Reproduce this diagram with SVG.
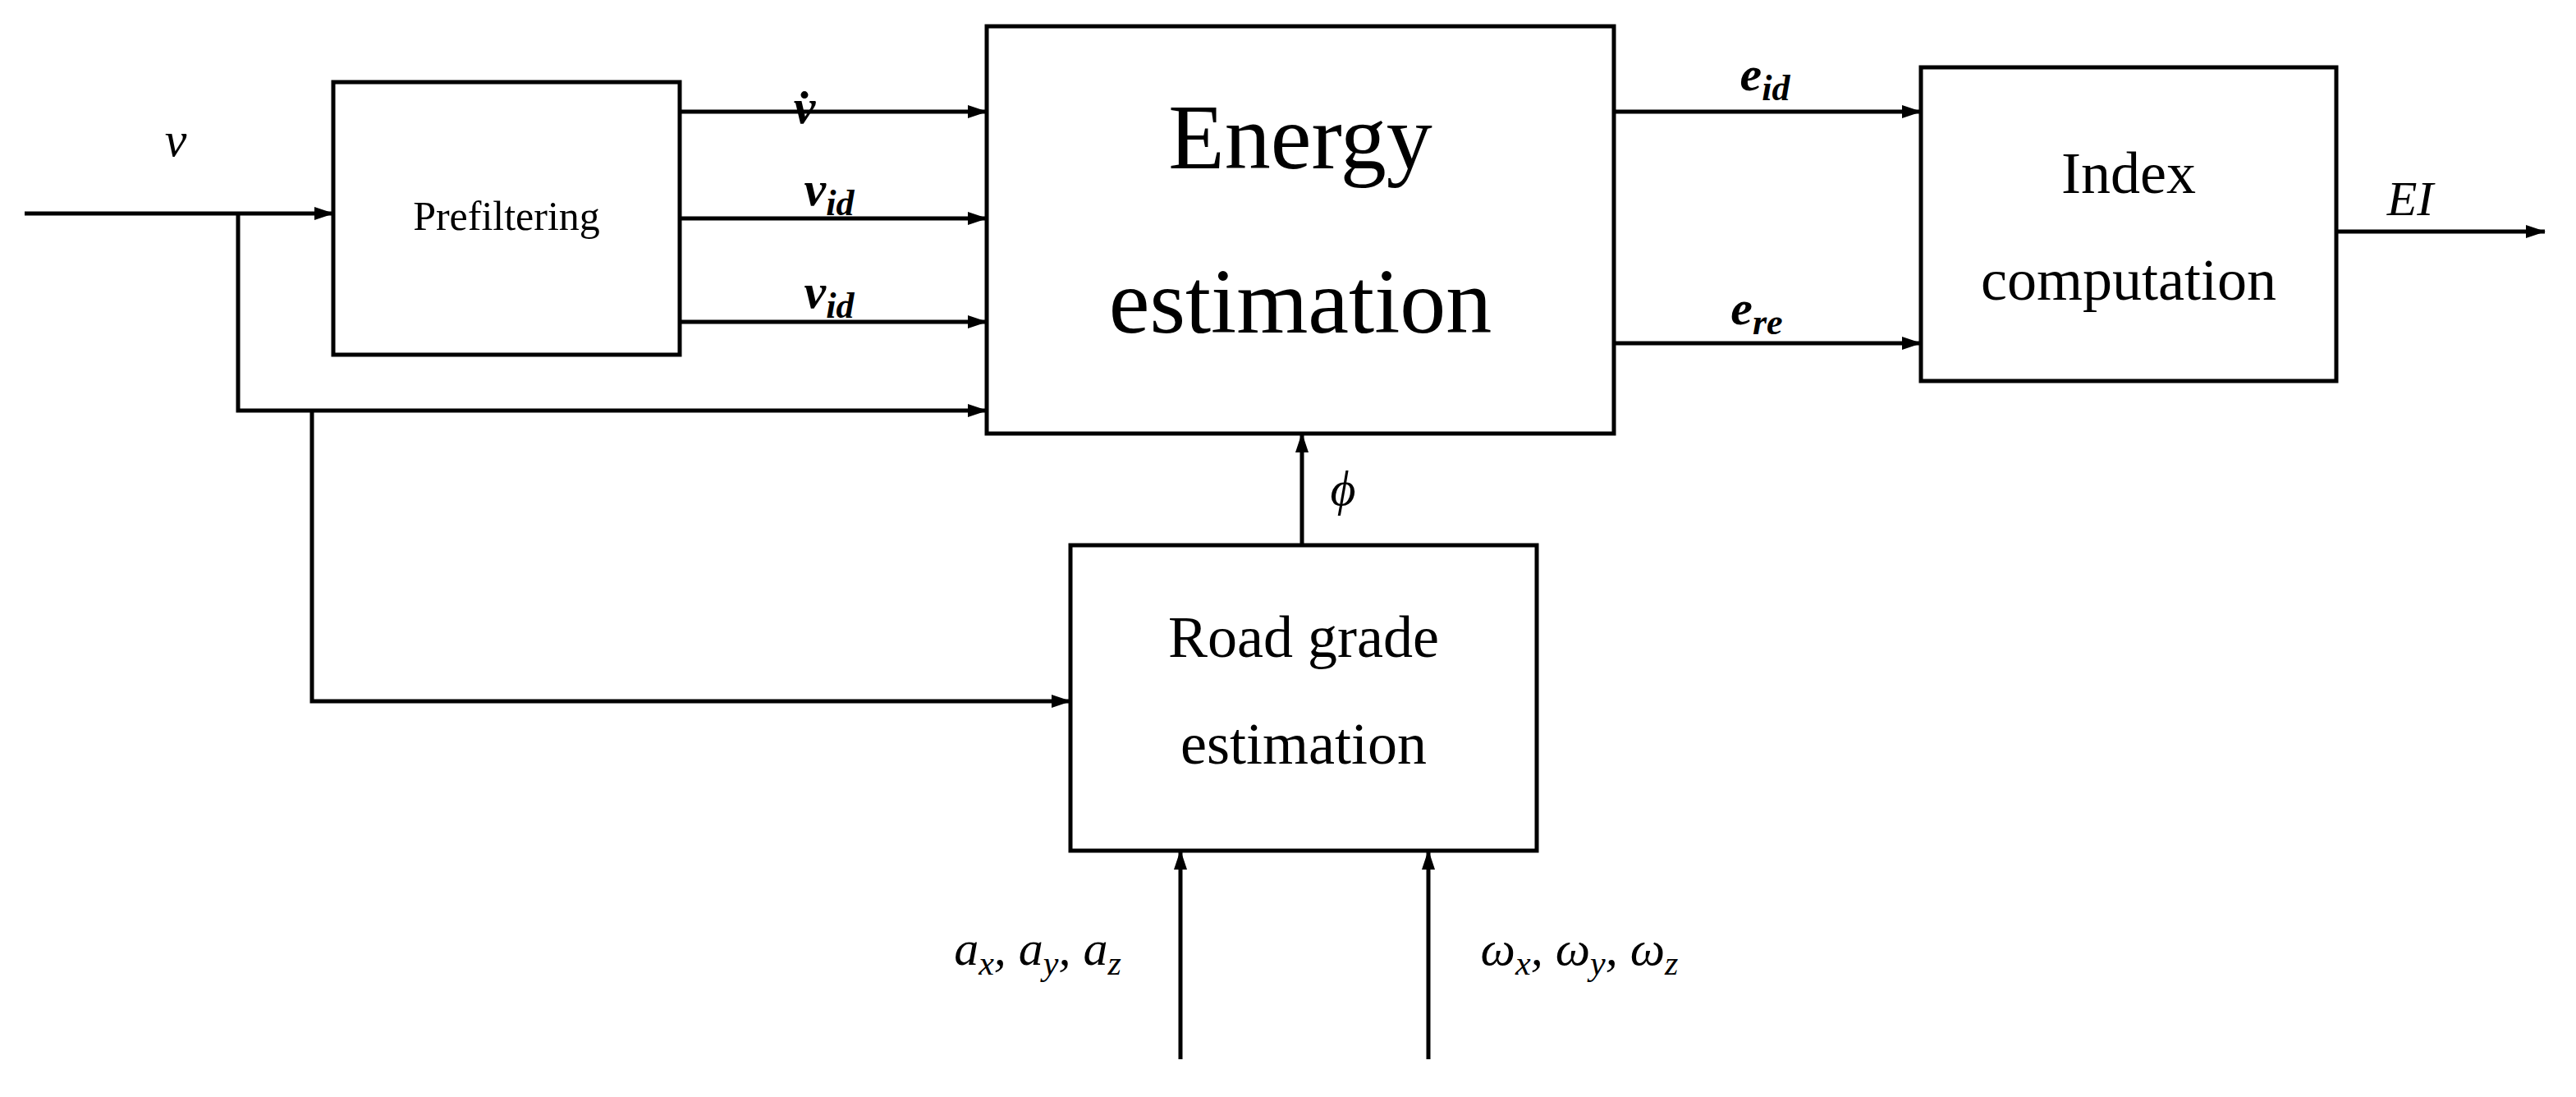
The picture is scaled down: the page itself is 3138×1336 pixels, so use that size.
<svg xmlns="http://www.w3.org/2000/svg" width="3138" height="1336" viewBox="0 0 3138 1336">
<style>
.box{fill:#fff;stroke:#000;stroke-width:5}
.ln{fill:none;stroke:#000;stroke-width:5}
.t{font-family:"Liberation Serif",serif;fill:#000;text-anchor:middle}
.m{font-family:"Liberation Serif",serif;font-style:italic;fill:#000;text-anchor:middle;font-size:60px}
.b{font-weight:bold}
</style>
<defs><marker id="a" markerWidth="10" markerHeight="8" refX="9" refY="4" orient="auto" markerUnits="userSpaceOnUse" viewBox="0 0 10 8"><path d="M0,0 L10,4 L0,8 Z" fill="#000"/></marker>
<marker id="ah" viewBox="0 0 24 16" refX="23" refY="8" markerWidth="24" markerHeight="16" orient="auto" markerUnits="userSpaceOnUse"><path d="M0,0 L24,8 L0,16 Z" fill="#000"/></marker></defs>
<g id="connectors">
<path class="ln" marker-end="url(#ah)" d="M30,260 H406"/>
<path class="ln" marker-end="url(#ah)" d="M290,260 V500 H1202"/>
<path class="ln" marker-end="url(#ah)" d="M380,500 V854 H1304"/>
<path class="ln" marker-end="url(#ah)" d="M828,136 H1202"/>
<path class="ln" marker-end="url(#ah)" d="M828,266 H1202"/>
<path class="ln" marker-end="url(#ah)" d="M828,392 H1202"/>
<path class="ln" marker-end="url(#ah)" d="M1966,136 H2340"/>
<path class="ln" marker-end="url(#ah)" d="M1966,418 H2340"/>
<path class="ln" marker-end="url(#ah)" d="M2846,282 H3100"/>
<path class="ln" marker-end="url(#ah)" d="M1586,664 V528"/>
<path class="ln" marker-end="url(#ah)" d="M1438,1290 V1036"/>
<path class="ln" marker-end="url(#ah)" d="M1740,1290 V1036"/>
<text class="m" x="214" y="190">v</text>
<text class="m b" x="980" y="150">v̇</text>
<text class="m b" x="1010" y="250">v<tspan font-size="44" dy="12">id</tspan></text>
<text class="m b" x="1010" y="375">v<tspan font-size="44" dy="12">id</tspan></text>
<text class="m b" x="2150" y="110">e<tspan font-size="44" dy="12">id</tspan></text>
<text class="m b" x="2140" y="395">e<tspan font-size="44" dy="12">re</tspan></text>
<text class="m" x="2936" y="262">EI</text>
<text class="m" x="1636" y="615">ϕ</text>
<text class="m" x="1264" y="1175">a<tspan font-size="42" dy="12">x</tspan><tspan dy="-12">, a</tspan><tspan font-size="42" dy="12">y</tspan><tspan dy="-12">, a</tspan><tspan font-size="42" dy="12">z</tspan></text>
<text class="m" x="1924" y="1175">ω<tspan font-size="42" dy="12">x</tspan><tspan dy="-12">, ω</tspan><tspan font-size="42" dy="12">y</tspan><tspan dy="-12">, ω</tspan><tspan font-size="42" dy="12">z</tspan></text>
</g>
<g id="prefiltering"><rect class="box" x="406" y="100" width="422" height="332"/><text class="t" x="617" y="280" font-size="50">Prefiltering</text></g>
<g id="energy"><rect class="box" x="1202" y="32" width="764" height="496"/><text class="t" x="1584" y="205" font-size="112">Energy</text><text class="t" x="1584" y="405" font-size="112">estimation</text></g>
<g id="index"><rect class="box" x="2340" y="82" width="506" height="382"/><text class="t" x="2593" y="235" font-size="72">Index</text><text class="t" x="2593" y="365" font-size="72">computation</text></g>
<g id="roadgrade"><rect class="box" x="1304" y="664" width="568" height="372"/><text class="t" x="1588" y="800" font-size="72">Road grade</text><text class="t" x="1588" y="930" font-size="72">estimation</text></g>
</svg>
